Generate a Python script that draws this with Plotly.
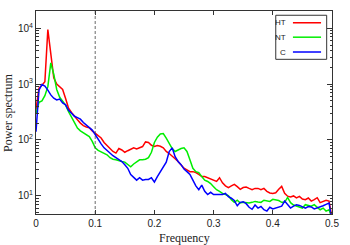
import numpy as np
import plotly.graph_objects as go

freq = [round(i * 0.005, 3) for i in range(101)]

ht = [350, 850, 950, 1100, 9500, 3600, 1300, 1000, 900, 800,
      550, 370, 310, 260, 230, 200, 180, 170, 165, 145,
      132, 120, 108, 90, 80, 72, 62, 58, 70, 66,
      60, 64, 68, 72, 69, 72, 76, 92, 90, 80,
      76, 79, 77, 72, 62, 57, 52, 46, 41, 35,
      31, 29, 27, 27, 26, 24, 22, 22, 21, 20,
      19, 18, 21, 17, 15, 14, 15, 16, 14.5, 13,
      14, 14.3, 13.5, 12.8, 13.5, 13.5, 12.8, 13.5, 12, 11.2,
      11, 11.3, 13, 14.7, 11, 9.8, 9.5, 9.9, 9.1, 9.7,
      8.7, 8.5, 9.1, 8.0, 8.5, 9.2, 7.5, 7.9, 8.3, 8.0,
      4.0]

nt = [300, 470, 500, 620, 900, 2400, 1500, 800, 580, 480,
      420, 320, 250, 200, 163, 145, 135, 125, 115, 94,
      72, 65, 61, 59, 54, 48, 45, 44, 42, 41,
      40, 36, 33, 37, 41, 44, 44, 45, 48, 60,
      90, 112, 128, 130, 108, 84, 70, 62, 67, 70,
      72, 62, 44, 31, 27, 26, 22, 19, 18, 16.5,
      14.5, 12.8, 12, 11, 10.5, 10, 8.5, 7.6, 8.3, 7.4,
      7.6, 7.5, 7.4, 7.6, 7.9, 7.7, 7.6, 8.3, 8.0, 7.9,
      8.6, 8.4, 8.2, 7.6, 7.6, 9.3, 7.5, 6.8, 6.5, 6.2,
      6.0, 6.9, 6.6, 6.5, 6.9, 6.3, 5.6, 6.0, 5.3, 5.6,
      4.0]

c = [140, 780, 980, 920, 780, 640, 560, 520, 540, 460,
     425, 340, 300, 265, 250, 235, 205, 185, 165, 150,
     125, 100, 85, 72, 64, 59, 52, 48, 44, 41,
     36, 31, 24, 21.5, 19, 21, 19, 19.5, 19.5, 21,
     17.5, 22, 27, 34, 40, 62, 72, 50, 41, 36,
     30, 27, 24, 19, 15, 12.8, 15.5, 12, 10.5, 11.5,
     10.5, 10.5, 10.5, 10.5, 11, 9.6, 9.0, 8.2, 6.6, 7.6,
     7.8, 7.2, 6.2, 5.7, 6.8, 6.0, 6.4, 5.6, 5.3, 6.2,
     5.8, 6.0, 6.2, 6.5, 8.0, 7.0, 6.0, 6.5, 6.9, 6.7,
     6.4, 6.0, 6.4, 6.3, 5.8, 6.0, 6.2, 6.6, 7.0, 7.4,
     3.5]

series_names = ["HT", "NT", "C"]
series_colors = ["#ff0000", "#00ee00", "#0000ff"]
x_ticks = [0, 0.1, 0.2, 0.3, 0.4, 0.5]
x_ticklabels = ["0", "0.1", "0.2", "0.3", "0.4", "0.5"]
y_ticks = [10, 100, 1000, 10000]
y_ticklabels = ["10<sup>1</sup>", "10<sup>2</sup>", "10<sup>3</sup>", "10<sup>4</sup>"]

fig = go.Figure()
for name, vals, col in zip(series_names, [ht, nt, c], series_colors):
    fig.add_trace(go.Scatter(x=freq, y=vals, mode="lines", name=name,
                             line=dict(color=col, width=1.5), showlegend=False))

frame = "#333333"
fig.update_xaxes(range=[0, 0.5], tickvals=x_ticks, ticktext=x_ticklabels,
                 ticks="inside", ticklen=4, tickcolor=frame, showline=True,
                 linecolor=frame, linewidth=1, mirror="ticks", showgrid=False,
                 zeroline=False, tickfont=dict(family="Liberation Sans, Arial", size=10, color="#222"))
fig.update_yaxes(type="log", range=[0.672, 4.31], tickvals=y_ticks, ticktext=y_ticklabels,
                 ticks="inside", ticklen=5, tickcolor=frame, showline=True,
                 linecolor=frame, linewidth=1, mirror="ticks", showgrid=False,
                 zeroline=False, tickfont=dict(family="Liberation Sans, Arial", size=10, color="#222"),
                 minor=dict(ticks="inside", ticklen=2.5, tickcolor=frame, dtick="D1", showgrid=False))

fig.add_shape(type="line", xref="x", yref="paper", x0=0.1, x1=0.1, y0=0, y1=1,
              line=dict(color="#444444", width=0.8, dash="3px,2px"))

# legend box (text left of line, as in the reference)
fig.add_shape(type="rect", xref="paper", yref="paper", x0=0.810, x1=0.982, y0=0.762, y1=0.979,
              line=dict(color=frame, width=1), fillcolor="white")
leg_y = [0.942, 0.871, 0.798]
for name, col, yy in zip(series_names, series_colors, leg_y):
    fig.add_shape(type="line", xref="paper", yref="paper", x0=0.868, x1=0.963, y0=yy, y1=yy,
                  line=dict(color=col, width=1.5))
    fig.add_annotation(xref="paper", yref="paper", x=0.852, y=yy, text=name, showarrow=False,
                       xanchor="right", yanchor="middle",
                       font=dict(family="Liberation Sans, Arial", size=8, color="#222"))

fig.add_annotation(xref="paper", yref="paper", x=0.5, y=-0.12, text="Frequency", showarrow=False,
                   xanchor="center", yanchor="middle",
                   font=dict(family="Liberation Serif, Times New Roman", size=12, color="#222"))
fig.add_annotation(xref="paper", yref="paper", x=-0.0946, y=0.498, text="Power spectrum", showarrow=False,
                   textangle=-90, xanchor="center", yanchor="middle",
                   font=dict(family="Liberation Serif, Times New Roman", size=12, color="#222"))

fig.update_layout(width=350, height=245, margin=dict(l=36, r=18, t=11, b=31),
                  paper_bgcolor="white", plot_bgcolor="white", showlegend=False)

fig.write_html("out.html", config={"displayModeBar": False},
               post_script="document.body.style.margin='0px';document.body.style.padding='0px';")
